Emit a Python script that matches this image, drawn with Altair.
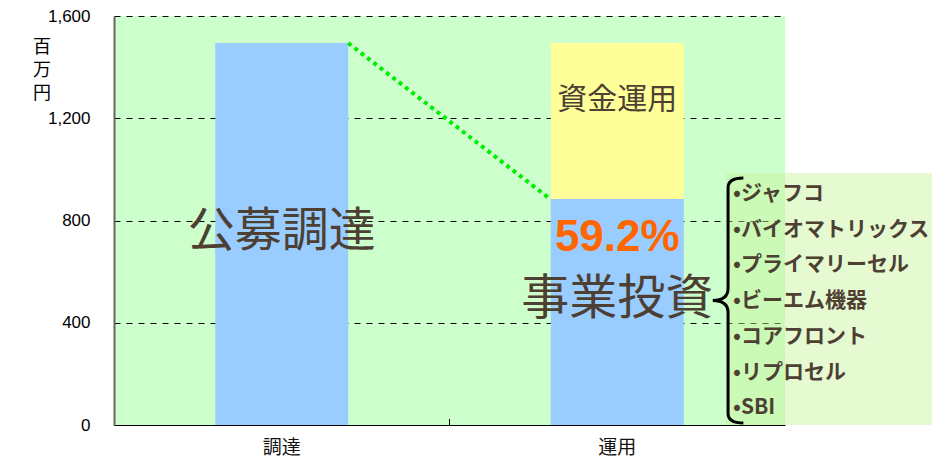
import altair as alt
import pandas as pd

# Sources and uses of funds (millions of yen)
categories = ["調達", "運用"]
raised_total = 1494          # public offering proceeds
invested = 884               # business investment portion
fund_management = raised_total - invested
invest_share = invested / raised_total * 100

companies = ["•ジャフコ", "•バイオマトリックス", "•プライマリーセル", "•ビーエム機器",
             "•コアフロント", "•リプロセル", "•SBI"]

y_ticks = [0, 400, 800, 1200, 1600]

BLUE = "#99ccff"
YELLOW = "#ffff99"
BROWN = "#4d4033"
JP = "Noto Sans CJK JP"
LAT = "Liberation Sans"

bars = pd.DataFrame({
    "cat": ["調達", "運用", "運用"],
    "lo": [0, 0, invested],
    "hi": [raised_total, invested, raised_total],
    "fill": [BLUE, BLUE, YELLOW],
})

x_scale = alt.Scale(domain=categories, paddingInner=0, paddingOuter=0)
y_scale = alt.Scale(domain=[0, 1600], nice=False)

bar_layer = alt.Chart(bars).mark_bar(width=alt.RelativeBandSize(0.3964)).encode(
    x=alt.X("cat:N", sort=categories, scale=x_scale,
            axis=alt.Axis(title=None, labelAngle=0, ticks=False, labelFont=JP,
                          labelFontSize=19, labelColor="#111", labelPadding=13,
                          domainColor="black", domainWidth=1)),
    y=alt.Y("hi:Q", scale=y_scale,
            axis=alt.Axis(values=y_ticks, format=",d", title=None, ticks=False,
                          labelFont=LAT, labelFontSize=17, labelColor="black",
                          labelPadding=24, domainColor="#666666", domainWidth=2,
                          grid=True, gridColor="black", gridDash=[6, 6],
                          gridWidth=1, gridOpacity=1)),
    y2="lo:Q",
    color=alt.Color("fill:N", scale=None),
)

# dotted connector from the raised total to the top of the investment block
link = pd.DataFrame({"src": ["調達"], "dst": ["運用"],
                     "y_src": [raised_total], "y_dst": [invested]})
link_layer = alt.Chart(link).mark_rule(color="#00ee00", strokeWidth=4,
                                       strokeDash=[4, 4]).encode(
    x=alt.X("src:N", sort=categories, scale=x_scale, bandPosition=0.698, axis=None),
    x2=alt.X2("dst:N", bandPosition=0.300),
    y=alt.Y("y_src:Q", scale=y_scale, axis=None),
    y2="y_dst:Q",
)

# inward tick between the two categories
tick_layer = alt.Chart(pd.DataFrame({"cat": ["運用"]})).mark_rule(
    color="black", strokeWidth=1).encode(
    x=alt.X("cat:N", sort=categories, scale=x_scale, bandPosition=0, axis=None),
    y=alt.value(403), y2=alt.value(409),
)

labels = pd.DataFrame({
    "cat": ["調達", "運用", "運用", "運用"],
    "y": [755, 1270, 731, 490],
    "text": ["公募調達", "資金運用", f"{invest_share:.1f}%", "事業投資"],
    "size": [47, 30, 44, 48],
    "color": [BROWN, BROWN, "#ff6600", BROWN],
    "font": [JP, JP, LAT, JP],
    "weight": ["normal", "normal", "bold", "normal"],
})


def label_layer(row):
    d = labels.iloc[[row]]
    r = labels.iloc[row]
    return alt.Chart(d).mark_text(
        font=r["font"], fontSize=int(r["size"]), fontWeight=r["weight"],
        color=r["color"], baseline="middle", align="center").encode(
        x=alt.X("cat:N", sort=categories, scale=x_scale, axis=None),
        y=alt.Y("y:Q", scale=y_scale, axis=None),
        text="text:N",
    )


text_layers = [label_layer(i) for i in range(len(labels))]

# side panel listing the investee companies
panel = alt.Chart(pd.DataFrame({"k": [0]})).mark_rect(
    fill="#c8f49c", opacity=0.45, clip=False).encode(
    x=alt.value(612), x2=alt.value(830), y=alt.value(157), y2=alt.value(409))

brace_path = ("M 0.15 -1 Q 0.025 -1 0.025 -0.92 L 0.025 -0.1 "
              "Q 0.025 0 -0.1 0 Q 0.025 0 0.025 0.1 L 0.025 0.92 "
              "Q 0.025 1 0.15 1")
brace = alt.Chart(pd.DataFrame({"k": [0]})).mark_point(
    shape=brace_path, filled=False, stroke="black", strokeWidth=3,
    opacity=1, clip=False).encode(
    x=alt.value(611), y=alt.value(284.5), size=alt.value(60025))

company_layer = alt.Chart(pd.DataFrame({"k": [0]})).mark_text(
    text=companies, font=JP, fontSize=21, fontWeight="bold", color=BROWN,
    lineHeight=35.7, align="left", baseline="middle", clip=False).encode(
    x=alt.value(619), y=alt.value(178),
)

unit_title = alt.Chart(pd.DataFrame({"k": [0]})).mark_text(
    text=["百", "万", "円"], font=JP, fontSize=18, lineHeight=23,
    color="black", align="center", baseline="middle").encode(
    x=alt.value(-72), y=alt.value(32))

chart = alt.layer(
    bar_layer, link_layer, tick_layer, *text_layers,
    panel, brace, company_layer, unit_title,
).resolve_axis(x="independent", y="independent").properties(
    width=671, height=409,
    autosize=alt.AutoSizeParams(type="none"),
    padding={"left": 114, "top": 16, "right": 147, "bottom": 45},
    background="white",
).configure_view(fill="#ccffcc", strokeWidth=0)

chart.save("out.html", embed_options={"renderer": "svg", "actions": False})
